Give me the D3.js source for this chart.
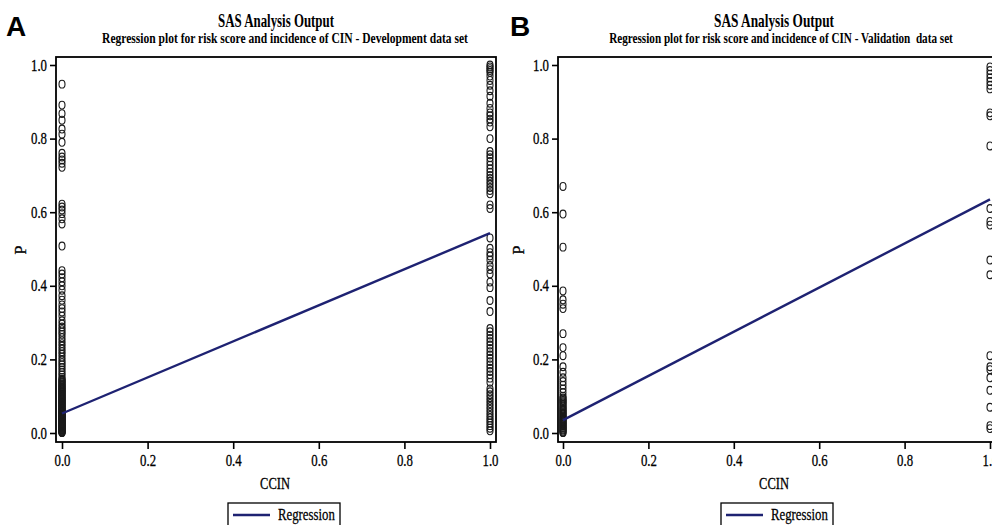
<!DOCTYPE html>
<html>
<head>
<meta charset="utf-8">
<script src="https://cdn.jsdelivr.net/npm/d3@7/dist/d3.min.js"></script>
<style>
  html, body { margin: 0; padding: 0; background: #fff; }
  svg { display: block; }
  text { font-family: "Liberation Serif", "Times New Roman", serif; fill: #000; }
</style>
</head>
<body>
<svg id="fig" width="992" height="525"></svg>
<script>
// Predicted risk P for each patient, grouped by observed CIN (CCIN = 0 / 1)
const devAtZero = [0.948, 0.891, 0.868, 0.850, 0.826, 0.812, 0.790, 0.760, 0.750, 0.742, 0.733, 0.722,
  0.622, 0.614, 0.606, 0.596, 0.582, 0.568, 0.508, 0.441, 0.432, 0.422, 0.411, 0.400, 0.388, 0.373,
  0.361, 0.348, 0.338, 0.329, 0.318, 0.305, 0.296, 0.288, 0.281, 0.274, 0.268, 0.259, 0.251, 0.243,
  0.236, 0.228, 0.221, 0.214, 0.206, 0.198, 0.191, 0.185, 0.178, 0.171, 0.164, 0.158, 0.151, 0.146,
  0.141, 0.136, 0.131, 0.126, 0.121, 0.117, 0.113, 0.109, 0.104, 0.100, 0.096, 0.092, 0.088, 0.084,
  0.080, 0.076, 0.072, 0.068, 0.064, 0.061, 0.057, 0.054, 0.050, 0.047, 0.044, 0.041, 0.038, 0.035,
  0.032, 0.029, 0.026, 0.023, 0.020, 0.017, 0.014, 0.011, 0.008, 0.005, 0.003, 0.001,
  0.002, 0.004, 0.006, 0.009, 0.012, 0.015, 0.018, 0.022, 0.025, 0.028, 0.031, 0.034, 0.037, 0.040,
  0.043, 0.046, 0.049, 0.052, 0.055, 0.059, 0.062, 0.066, 0.070, 0.074, 0.078, 0.082, 0.086, 0.090,
  0.094, 0.098, 0.102, 0.107, 0.111, 0.115, 0.119, 0.124, 0.128, 0.133, 0.139, 0.144];
const devAtOne = [1.000, 0.995, 0.990, 0.985, 0.980, 0.970, 0.958, 0.945, 0.930, 0.915, 0.896, 0.882,
  0.870, 0.862, 0.853, 0.845, 0.832, 0.800, 0.765, 0.756, 0.748, 0.738, 0.728, 0.718, 0.709, 0.700,
  0.692, 0.684, 0.676, 0.667, 0.659, 0.650, 0.620, 0.610, 0.530, 0.502, 0.490, 0.481, 0.470, 0.455,
  0.444, 0.432, 0.410, 0.395, 0.360, 0.330, 0.284, 0.275, 0.266, 0.257, 0.248, 0.239, 0.230, 0.221,
  0.212, 0.203, 0.194, 0.185, 0.176, 0.167, 0.158, 0.149, 0.138, 0.120, 0.112, 0.104, 0.096, 0.088,
  0.080, 0.072, 0.064, 0.056, 0.048, 0.041, 0.034, 0.027, 0.020, 0.013, 0.006];
const valAtZero = [0.670, 0.595, 0.505, 0.386, 0.362, 0.350, 0.338, 0.270, 0.232, 0.210, 0.180, 0.165,
  0.150, 0.140, 0.130, 0.120, 0.110, 0.100, 0.092, 0.085, 0.078, 0.071, 0.064, 0.058, 0.052, 0.046,
  0.040, 0.035, 0.030, 0.025, 0.020, 0.015, 0.010, 0.005, 0.001,
  0.003, 0.008, 0.013, 0.018, 0.023, 0.028, 0.033, 0.038, 0.043, 0.049, 0.055, 0.061, 0.067, 0.074,
  0.082, 0.088, 0.095];
const valAtOne = [0.995, 0.985, 0.975, 0.965, 0.955, 0.945, 0.935, 0.870, 0.862, 0.780, 0.610, 0.575,
  0.565, 0.470, 0.430, 0.210, 0.180, 0.172, 0.150, 0.116, 0.070, 0.020, 0.012];

// Fitted regression lines: [intercept, slope]
const devFit = [0.053, 0.490];
const valFit = [0.035, 0.600];

const ticks = [0, 0.2, 0.4, 0.6, 0.8, 1.0];
const legendLabel = "Regression";
const lineColor = "#1e2272";

const svg = d3.select("#fig");

// Serif label narrowed horizontally; either a fixed scale or a target width
function label(parent, x, y, txt, opts) {
  const t = parent.append("text")
    .attr("x", 0).attr("y", 0)
    .attr("text-anchor", opts.anchor || "start")
    .style("font-size", opts.size + "px")
    .style("font-weight", opts.weight || "normal")
    .style("white-space", "pre")
    .text(txt);
  if (opts.family) t.style("font-family", opts.family);
  if (opts.stroke) t.attr("stroke", "#000").attr("stroke-width", opts.stroke);
  let k = opts.k || 1;
  if (opts.width) k = opts.width / t.node().getComputedTextLength();
  t.attr("transform", `translate(${x},${y}) scale(${k.toFixed(4)},1)`);
  return t;
}

function panel(cfg) {
  const g = svg.append("g");
  const x = d3.scaleLinear().domain([0, 1]).range([cfg.x0, cfg.x1]);
  const y = d3.scaleLinear().domain([0, 1]).range([433, 65]);

  // Panel letter
  label(g, cfg.letterX, 36, cfg.letter, {
    size: 28, weight: "bold", family: "'Liberation Sans', Arial, sans-serif"
  });

  // Titles
  label(g, cfg.titleX, 27, "SAS Analysis Output", { size: 18, weight: "bold", anchor: "middle", width: cfg.titleW });
  label(g, cfg.subX, 43, cfg.subtitle, { size: 14.5, weight: "bold", anchor: "middle", width: cfg.subW });

  // Axes
  const yAxis = g.append("g").attr("transform", `translate(${cfg.frameL},0)`)
    .call(d3.axisLeft(y).tickValues(ticks).tickFormat(d3.format(".1f")).tickSize(6).tickPadding(3));
  const xAxis = g.append("g").attr("transform", `translate(0,${cfg.frameB})`)
    .call(d3.axisBottom(x).tickValues(ticks).tickFormat(d3.format(".1f")).tickSize(7).tickPadding(6));
  const tk = 0.8;
  [yAxis, xAxis].forEach(a => {
    a.select(".domain").remove();
    a.selectAll(".tick line").attr("stroke", "#000").attr("stroke-width", 1.6);
    a.selectAll(".tick text").style("font-family", "'Liberation Serif', serif")
      .style("font-size", "16px").attr("fill", "#000")
      .attr("stroke", "#000").attr("stroke-width", 0.3)
      .attr("transform", `scale(${tk},1)`);
  });
  yAxis.selectAll(".tick text").attr("x", -9 / tk);

  // Axis titles
  g.append("text").attr("transform", `translate(${cfg.pX},250) rotate(-90)`)
    .attr("text-anchor", "middle").style("font-size", "16px")
    .attr("stroke", "#000").attr("stroke-width", 0.3).text("P");
  label(g, cfg.ccinX, 489, "CCIN", { size: 16, anchor: "middle", k: 0.78, stroke: 0.3 });

  // Points
  const pts = cfg.atZero.map(p => [0, p]).concat(cfg.atOne.map(p => [1, p]));
  g.append("g").selectAll("ellipse").data(pts).join("ellipse")
    .attr("cx", d => x(d[0])).attr("cy", d => y(d[1]))
    .attr("rx", 3).attr("ry", 3.9)
    .attr("fill", "none").attr("stroke", "#1a1a1a").attr("stroke-width", 1.1);

  // Regression line
  const fitLine = d3.line().x(d => x(d)).y(d => y(cfg.fit[0] + cfg.fit[1] * d));
  g.append("path").datum([0, 1]).attr("d", fitLine)
    .attr("fill", "none").attr("stroke", lineColor).attr("stroke-width", 2.4);

  // Frame
  g.append("rect").attr("x", cfg.frameL).attr("y", 57)
    .attr("width", cfg.frameR - cfg.frameL).attr("height", cfg.frameB - 57)
    .attr("fill", "none").attr("stroke", "#000").attr("stroke-width", 1.8);

  // Legend
  const lg = g.append("g");
  lg.append("rect").attr("x", cfg.legX).attr("y", 503).attr("width", 112).attr("height", 30)
    .attr("fill", "#fff").attr("stroke", "#000").attr("stroke-width", 1.3);
  lg.append("line").attr("x1", cfg.legX + 5).attr("x2", cfg.legX + 42).attr("y1", 515).attr("y2", 515)
    .attr("stroke", lineColor).attr("stroke-width", 2.4);
  label(lg, cfg.legX + 50, 520, legendLabel, { size: 16, k: 0.8, stroke: 0.25 });
}

panel({
  letter: "A", letterX: 6, titleX: 276, titleW: 116, subX: 285, subW: 366,
  subtitle: "Regression plot for risk score and incidence of CIN - Development data set",
  x0: 62, x1: 490, frameL: 56, frameR: 496, frameB: 442, pX: 26, ccinX: 275, legX: 228,
  atZero: devAtZero, atOne: devAtOne, fit: devFit
});
panel({
  letter: "B", letterX: 510, titleX: 774, titleW: 120, subX: 781, subW: 344,
  subtitle: "Regression plot for risk score and incidence of CIN - Validation  data set",
  x0: 563, x1: 990, frameL: 558, frameR: 998, frameB: 442, pX: 524, ccinX: 774, legX: 721,
  atZero: valAtZero, atOne: valAtOne, fit: valFit
});
</script>
</body>
</html>
